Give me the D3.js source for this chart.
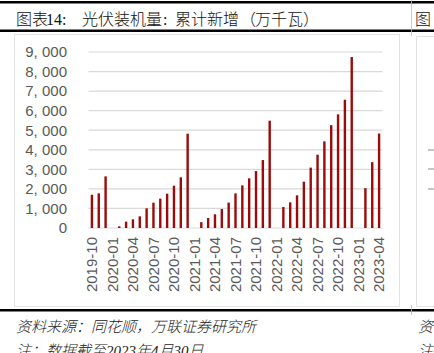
<!DOCTYPE html>
<html>
<head>
<meta charset="utf-8">
<script src="https://cdn.jsdelivr.net/npm/d3@7"></script>
<style>
  body { margin: 0; background: #fff; }
  svg { display: block; }
</style>
</head>
<body>
<svg width="434" height="353"></svg>
<script>
const width = 434, height = 353;
const svg = d3.select("svg");

// Months shown (2019-10 .. 2023-04)
const months = [
    "2019-10", "2019-11", "2019-12",
    "2020-01", "2020-02", "2020-03", "2020-04", "2020-05", "2020-06",
    "2020-07", "2020-08", "2020-09", "2020-10", "2020-11", "2020-12",
    "2021-01", "2021-02", "2021-03", "2021-04", "2021-05", "2021-06",
    "2021-07", "2021-08", "2021-09", "2021-10", "2021-11", "2021-12",
    "2022-01", "2022-02", "2022-03", "2022-04", "2022-05", "2022-06",
    "2022-07", "2022-08", "2022-09", "2022-10", "2022-11", "2022-12",
    "2023-01", "2023-02", "2023-03", "2023-04"
];

// 累计新增 (万千瓦), January has no data
const installed = [
    1700, 1770, 2640,
    null, 85, 324, 443, 596, 1005,
    1295, 1500, 1755, 2164, 2590, 4820,
    null, 300, 510, 700, 970, 1300,
    1770, 2180, 2540, 2910, 3475, 5488,
    null, 1073, 1312, 1670, 2368, 3088,
    3748, 4430, 5260, 5811, 6560, 8741,
    null, 2037, 3366, 4831
];

const tickLabels = [
    "2019-10", "2020-01", "2020-04", "2020-07", "2020-10",
    "2021-01", "2021-04", "2021-07", "2021-10",
    "2022-01", "2022-04", "2022-07", "2022-10",
    "2023-01", "2023-04"
];
const yTicks = [0, 1000, 2000, 3000, 4000, 5000, 6000, 7000, 8000, 9000];

const data = months.map((m, i) => ({ month: m, value: installed[i] }));

const cjk = "'Liberation Serif', 'Noto Sans CJK SC', serif";
const latin = "'Liberation Sans', Arial, sans-serif";

// Header / frame lines
svg.append("rect").attr("x", 0).attr("y", 1).attr("width", width).attr("height", 2.5).attr("fill", "#000");
svg.append("rect").attr("x", 0).attr("y", 29.5).attr("width", width).attr("height", 2.5).attr("fill", "#000");
svg.append("rect").attr("x", 0).attr("y", 309).attr("width", width).attr("height", 2.5).attr("fill", "#000");
svg.append("line").attr("x1", 411.5).attr("x2", 411.5).attr("y1", 0).attr("y2", 36)
    .attr("stroke", "#bbb").attr("stroke-width", 0.8);
svg.append("line").attr("x1", 411.5).attr("x2", 411.5).attr("y1", 305).attr("y2", 315)
    .attr("stroke", "#bbb").attr("stroke-width", 0.8);

// title, split into pieces to follow the original spacing
const titleParts = [
    ["图表", 16], ["14:", 46], ["光伏装机量", 82], [":", 163],
    ["累计新增", 175], ["（", 240], ["万千瓦", 255], ["）", 303]
];
const title = svg.append("text")
    .attr("y", 24.5)
    .style("font-family", cjk).style("font-size", "16px").style("font-weight", 300)
    .attr("fill", "#111");
titleParts.forEach(([t, x]) => title.append("tspan").attr("x", x).text(t));

svg.append("text")
    .attr("x", 415).attr("y", 24.5)
    .style("font-family", cjk).style("font-size", "16px").style("font-weight", 300)
    .attr("fill", "#111")
    .text("图");

// chart boxes
svg.append("rect")
    .attr("x", 14.5).attr("y", 34.5).attr("width", 385).attr("height", 272)
    .attr("fill", "none").attr("stroke", "#e3e3e3").attr("stroke-width", 1);
svg.append("rect")
    .attr("x", 416.5).attr("y", 36.5).attr("width", 40).attr("height", 270)
    .attr("fill", "none").attr("stroke", "#e3e3e3").attr("stroke-width", 1);
[150, 169, 189].forEach(y => {
    svg.append("line").attr("x1", 428).attr("x2", 434).attr("y1", y).attr("y2", y)
        .attr("stroke", "#8c8c8c").attr("stroke-width", 1);
});

// scales
const xScale = d3.scaleBand()
    .domain(months)
    .range([88.5, 382.5])
    .paddingInner(0.65)
    .paddingOuter(0.325);

const yScale = d3.scaleLinear()
    .domain([0, 9000])
    .range([228, 52]);

// gridlines
svg.append("g")
    .selectAll("line")
    .data(yTicks)
    .enter().append("line")
    .attr("x1", 88.5).attr("x2", 382.5)
    .attr("y1", d => yScale(d)).attr("y2", d => yScale(d))
    .attr("stroke", "#d9d9d9").attr("stroke-width", 1.2);

// y axis labels
const fmt = d => d3.format(",")(d).replace(",", ", ");
const yAxis = svg.append("g")
    .attr("transform", "translate(70,0)")
    .call(d3.axisLeft(yScale).tickValues(yTicks).tickFormat(fmt).tickSize(0).tickPadding(3));
yAxis.select(".domain").remove();
yAxis.selectAll(".tick text")
    .style("font-family", latin)
    .style("font-size", "15px")
    .attr("fill", "#595959");

// x axis labels
const xAxis = svg.append("g")
    .attr("transform", "translate(0,228)")
    .call(d3.axisBottom(xScale).tickValues(tickLabels).tickSize(0));
xAxis.select(".domain").remove();
xAxis.selectAll(".tick text")
    .attr("transform", "rotate(-90)")
    .attr("x", -9).attr("y", 0).attr("dy", "0.35em")
    .style("text-anchor", "end")
    .style("font-family", latin)
    .style("font-size", "15px")
    .attr("fill", "#595959");

// bars
svg.selectAll(".bar")
    .data(data.filter(d => d.value !== null))
    .enter().append("rect")
    .attr("class", "bar")
    .attr("x", d => xScale(d.month))
    .attr("y", d => yScale(d.value))
    .attr("width", xScale.bandwidth())
    .attr("height", d => yScale(0) - yScale(d.value))
    .attr("fill", "#9c0a0a");

// footer (second line is cut by the bottom edge, as in the original)
const foot = [["资料来源：同花顺，万联证券研究所", 332], ["注：数据截至2023年4月30日", 356]];
foot.forEach(([t, y]) => {
    svg.append("text")
        .attr("x", 16).attr("y", y)
        .style("font-family", cjk).style("font-size", "15px").style("font-style", "italic")
        .style("font-weight", 300)
        .attr("fill", "#222")
        .text(t);
});
svg.append("text").attr("x", 418).attr("y", 332)
    .style("font-family", cjk).style("font-size", "15px").style("font-style", "italic")
    .style("font-weight", 300).attr("fill", "#222").text("资");
svg.append("text").attr("x", 418).attr("y", 356)
    .style("font-family", cjk).style("font-size", "15px").style("font-style", "italic")
    .style("font-weight", 300).attr("fill", "#222").text("注");
</script>
</body>
</html>
